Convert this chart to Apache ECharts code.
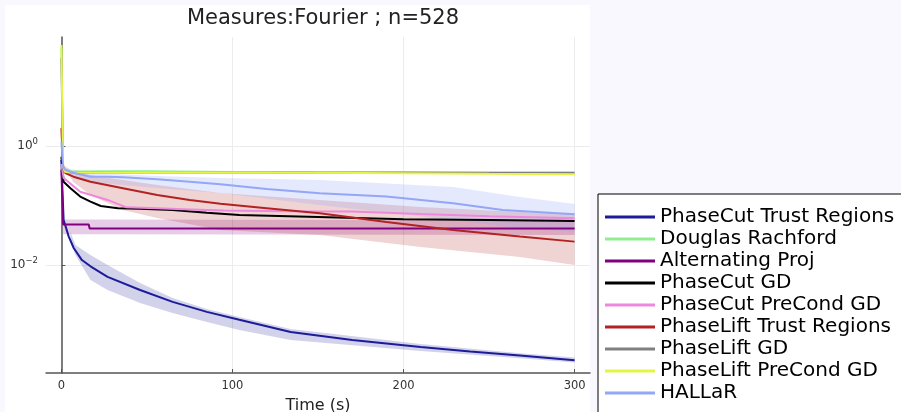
<!DOCTYPE html>
<html><head><meta charset="utf-8">
<script src="https://cdn.jsdelivr.net/npm/echarts@6/dist/echarts.min.js"></script>
<style>html,body{margin:0;padding:0;background:#f8f8fe;overflow:hidden}#c{width:901px;height:412px}</style>
</head><body><div id="c"></div>
<script>
const titleText = 'Measures:Fourier ; n=528';
const xName = 'Time (s)';
const xTicks = [0, 100, 200, 300];
const yTicks = [0.01, 1];

const names = ['PhaseCut Trust Regions','Douglas Rachford','Alternating Proj','PhaseCut GD','PhaseCut PreCond GD','PhaseLift Trust Regions','PhaseLift GD','PhaseLift PreCond GD','HALLaR'];
const colors = ['#1c1c9a','#90ee90','#800080','#000000','#ee88dd','#b22222','#808080','#e6f545','#94a6f6'];

// PhaseCut Trust Regions
const tPCTR = [0, 0.5, 1.3, 4.3, 7.2, 12, 17, 27, 46, 65, 85, 104, 134, 170, 210, 239, 268, 300];
const vPCTR = [0.58, 0.22, 0.057, 0.030, 0.0193, 0.0121, 0.0095, 0.0063, 0.0038, 0.0024, 0.00163, 0.0012, 0.00075, 0.00055, 0.00042, 0.00035, 0.00030, 0.00025];
// Douglas Rachford
const tDR = [0, 1, 3, 10, 30, 50, 100, 150, 200, 250, 300];
const vDR = [45, 0.42, 0.375, 0.372, 0.375, 0.376, 0.366, 0.358, 0.356, 0.355, 0.354];
// Alternating Proj
const tAP = [0, 1, 16, 16.5, 300];
const vAP = [0.40, 0.048, 0.048, 0.041, 0.041];
// PhaseCut GD
const tPCGD = [0, 1.3, 5.3, 11, 17, 23, 33, 46, 65, 85, 104, 150, 200, 250, 300];
const vPCGD = [0.66, 0.25, 0.195, 0.141, 0.116, 0.098, 0.0897, 0.088, 0.084, 0.0757, 0.069, 0.064, 0.059, 0.057, 0.055];
// PhaseCut PreCond GD
const tPCPG = [0, 1.3, 11, 27, 38, 56, 75, 95, 130, 170, 210, 250, 300];
const vPCPG = [0.5, 0.29, 0.17, 0.124, 0.093, 0.090, 0.086, 0.082, 0.080, 0.079, 0.072, 0.066, 0.061];
// PhaseLift Trust Regions
const tPLTR = [0, 1, 2.3, 7, 17, 36, 56, 75, 93, 120, 151, 190, 229, 268, 300];
const vPLTR = [2.0, 0.45, 0.35, 0.305, 0.25, 0.195, 0.150, 0.124, 0.107, 0.09, 0.074, 0.053, 0.0387, 0.030, 0.0247];
// PhaseLift GD
const tPLGD = [0, 1, 3, 10, 50, 100, 150, 200, 250, 300];
const vPLGD = [30, 0.40, 0.36, 0.358, 0.358, 0.358, 0.357, 0.357, 0.356, 0.356];
// PhaseLift PreCond GD
const tPLPG = [0, 1, 2, 5, 20, 50, 100, 150, 200, 250, 300];
const vPLPG = [50, 0.45, 0.37, 0.362, 0.36, 0.362, 0.36, 0.356, 0.348, 0.34, 0.335];
// HALLaR
const tHAL = [0, 1, 2.3, 7, 17, 27, 36, 56, 75, 93, 120, 151, 190, 229, 258, 300];
const vHAL = [1.18, 0.45, 0.395, 0.356, 0.305, 0.305, 0.298, 0.275, 0.251, 0.227, 0.19, 0.160, 0.141, 0.109, 0.084, 0.071];

// Bands (lower / upper)
const bPCTR_t = [5.3, 8.2, 17, 27, 46, 65, 85, 104, 134, 210, 268, 300];
const bPCTR_hi = [0.0359, 0.0217, 0.0147, 0.0100, 0.00498, 0.00279, 0.00182, 0.00134, 0.00084, 0.00047, 0.00033, 0.00028];
const bPCTR_lo = [0.0244, 0.0147, 0.0056, 0.0038, 0.0023, 0.00156, 0.0011, 0.00081, 0.00055, 0.00036, 0.00027, 0.00023];
const bAP_t = [1, 16, 300];
const bAP_hi = [0.058, 0.058, 0.056];
const bAP_lo = [0.033, 0.033, 0.032];
const bPLTR_t = [1.2, 7, 17, 36, 56, 93, 151, 210, 268, 300];
const bPLTR_hi = [0.48, 0.366, 0.326, 0.268, 0.221, 0.162, 0.124, 0.0944, 0.0778, 0.072];
const bPLTR_lo = [0.43, 0.248, 0.150, 0.084, 0.0617, 0.0387, 0.0319, 0.0201, 0.0136, 0.0100];
const bHAL_t = [2.3, 17, 56, 93, 151, 229, 268, 300];
const bHAL_hi = [0.427, 0.352, 0.313, 0.290, 0.268, 0.205, 0.139, 0.106];
const bHAL_lo = [0.338, 0.248, 0.197, 0.162, 0.102, 0.057, 0.042, 0.0359];

const FONT = 'DejaVu Sans';
const zip = (t, v) => t.map((x, i) => [x, v[i]]);

function band(t, lo, hi, fill) {
  return {
    type: 'custom', silent: true, z: 1, clip: true,
    data: [[t[0], lo[0]]],
    renderItem: (params, api) => {
      const pts = [];
      for (let i = 0; i < t.length; i++) pts.push(api.coord([t[i], hi[i]]));
      for (let i = t.length - 1; i >= 0; i--) pts.push(api.coord([t[i], lo[i]]));
      return { type: 'polygon', shape: { points: pts }, style: { fill: fill } };
    }
  };
}

const lineData = [
  zip(tPCTR, vPCTR), zip(tDR, vDR), zip(tAP, vAP), zip(tPCGD, vPCGD), zip(tPCPG, vPCPG),
  zip(tPLTR, vPLTR), zip(tPLGD, vPLGD), zip(tPLPG, vPLPG), zip(tHAL, vHAL)
];

const series = [
  band(bPCTR_t, bPCTR_lo, bPCTR_hi, 'rgba(28,28,154,0.2)'),
  band(bAP_t, bAP_lo, bAP_hi, 'rgba(128,0,128,0.2)'),
  band(bPLTR_t, bPLTR_lo, bPLTR_hi, 'rgba(178,34,34,0.2)'),
  band(bHAL_t, bHAL_lo, bHAL_hi, 'rgba(148,166,246,0.25)')
];
names.forEach((n, i) => series.push({
  name: n, type: 'line', data: lineData[i], showSymbol: false, symbol: 'none', clip: true, z: 2 + i,
  lineStyle: { color: colors[i], width: 2 }, itemStyle: { color: colors[i] }
}));

const chart = echarts.init(document.getElementById('c'), null, { renderer: 'canvas' });
chart.setOption({
  animation: false,
  backgroundColor: '#f8f8fe',
  graphic: [{ type: 'rect', z: -100, shape: { x: 5, y: 5, width: 585, height: 420 }, style: { fill: '#ffffff' } }],
  title: { text: titleText, left: 318, top: 3, textAlign: 'center',
    textStyle: { fontFamily: FONT, fontSize: 21, fontWeight: 'normal', color: '#222' } },
  grid: { left: 46, top: 37, right: 311, bottom: 39, containLabel: false, outerBoundsMode: 'none' },
  xAxis: {
    type: 'value', min: -9, max: 309,
    name: xName, nameLocation: 'middle', nameGap: 25,
    nameTextStyle: { fontFamily: FONT, fontSize: 16, color: '#222' },
    axisLine: { show: true, onZero: false, lineStyle: { color: '#555', width: 1.5 } },
    axisTick: { show: true, inside: true, length: 4, customValues: xTicks, lineStyle: { color: '#555' } },
    axisLabel: { customValues: xTicks, margin: 7, fontFamily: FONT, fontSize: 11.5, color: '#333' },
    splitLine: { show: true, lineStyle: { color: '#ececec', width: 1 } }
  },
  yAxis: {
    type: 'log', logBase: 10, min: 1.53e-4, max: 67.9,
    axisLine: { show: true, lineStyle: { color: '#555', width: 1.5 } },
    axisTick: { show: true, inside: true, length: 4, customValues: yTicks, lineStyle: { color: '#555' } },
    axisLabel: {
      customValues: yTicks, margin: 8, fontFamily: FONT, color: '#333',
      formatter: v => { const e = Math.round(Math.log10(v)); return '{b|10}{s|' + (e < 0 ? '\u2212' + (-e) : e) + '}'; },
      rich: { b: { fontFamily: FONT, fontSize: 12, color: '#333' }, s: { fontFamily: FONT, fontSize: 8.5, color: '#333', padding: [0, 0, 8, 0] } }
    },
    splitLine: { show: true, lineStyle: { color: '#ececec', width: 1 } }
  },
  legend: {
    orient: 'vertical', left: 598, top: 194, width: 400, height: 300, padding: [12, 40, 40, 7],
    itemWidth: 50, itemHeight: 3, itemGap: 0, icon: 'rect',
    backgroundColor: '#ffffff', borderColor: '#000', borderWidth: 1, borderRadius: 0,
    textStyle: { fontFamily: FONT, fontSize: 20, color: '#000', lineHeight: 22 },
    data: names
  },
  series: series
});
</script></body></html>
